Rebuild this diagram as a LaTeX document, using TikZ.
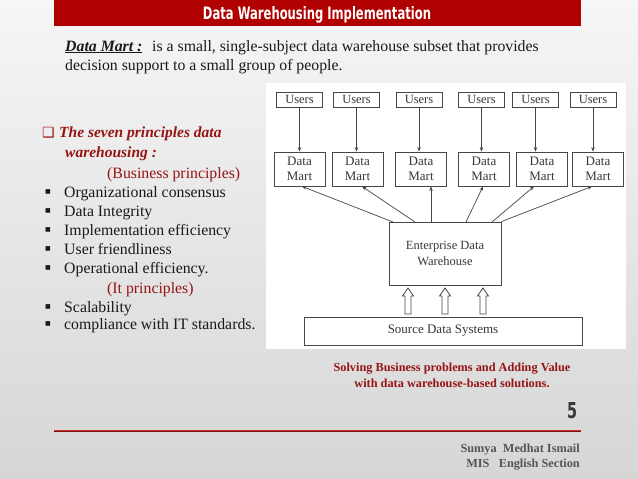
\documentclass[tikz,border=0pt]{standalone}
\usepackage{fontspec}
\setmainfont{Liberation Serif}
\newfontfamily\dejavu{DejaVu Sans}
\usetikzlibrary{calc,arrows.meta}
\definecolor{bgtop}{RGB}{246,246,246}
\definecolor{bgbot}{RGB}{214,214,214}
\definecolor{titlered}{RGB}{176,0,0}
\definecolor{darkred}{RGB}{150,20,20}
\definecolor{lineg}{RGB}{70,70,70}
\definecolor{txtg}{RGB}{55,55,55}
\definecolor{authg}{RGB}{85,85,85}
\definecolor{bodyk}{RGB}{25,25,25}
\definecolor{rulered}{RGB}{205,45,40}
\definecolor{ruledark}{RGB}{120,20,20}
\begin{document}
\begin{tikzpicture}[x=1pt,y=-1pt,
  body/.style={anchor=base west, inner sep=0pt, text=bodyk, font=\fontsize{15.8}{18}\selectfont},
  redhead/.style={body, text=darkred, font=\fontsize{15.5}{18}\selectfont\bfseries\itshape},
  redsub/.style={body, text=darkred},
  bul/.style={anchor=base west, inner sep=0pt, text=bodyk, font=\dejavu\fontsize{6}{6}\selectfont},
  dbox/.style={draw=lineg, line width=0.8pt, fill=white, inner sep=0pt, text=txtg, align=center, font=\fontsize{12.5}{14}\selectfont},
  usersbox/.style={dbox, minimum width=46pt, minimum height=15pt},
  martbox/.style={dbox, minimum width=51pt, minimum height=34pt, font=\fontsize{13}{15}\selectfont},
  arr/.style={draw=lineg, line width=0.7pt, -{Stealth[length=4.5pt,width=3.5pt]}},
  hollow/.style={draw=lineg, line width=0.8pt, fill=white},
  caption/.style={anchor=base, inner sep=0pt, text=darkred, font=\fontsize{12.3}{14}\selectfont\bfseries},
  author/.style={anchor=base east, inner sep=0pt, text=authg, font=\fontsize{12.3}{14}\selectfont\bfseries},
]
\useasboundingbox (0,0) rectangle (638,479);
\shade[top color=bgtop, bottom color=bgbot] (0,0) rectangle (638,479);

% title bar
\fill[titlered] (54,0) rectangle (581,26);
\node[anchor=base, inner sep=0pt, text=white] (title) at (317,19.3)
  {\resizebox{228pt}{13pt}{\dejavu\bfseries Data Warehousing Implementation}};

% definition
\node[body] (dmlabel) at (65,51) {\underline{\textbf{\textit{Data Mart :}}}};
\node[body] (dmdef1) at (152,51) {is a small, single-subject data warehouse subset that provides};
\node[body] (dmdef2) at (65,70) {decision support to a small group of people.};

% left list
\node[anchor=base west, inner sep=0pt, text=darkred, font=\dejavu\fontsize{14}{14}\selectfont] (chk) at (42,137) {❑};
\node[redhead] (h1) at (59,137) {The seven principles data};
\node[redhead] (h2) at (65,157) {warehousing :};
\node[redsub] (bp) at (107,178) {(Business principles)};
\foreach \y/\t [count=\i] in {197/Organizational consensus, 216/Data Integrity, 235/Implementation efficiency, 254/User friendliness, 273/Operational efficiency.}{
  \node[bul] (b\i) at (45,\y-4) {■};
  \node[body] (t\i) at (64,\y) {\t};
}
\node[redsub] (ip) at (107,293) {(It principles)};
\node[bul] (b6) at (45,308) {■};
\node[body] (t6) at (64,312) {Scalability};
\node[bul] (b7) at (45,325) {■};
\node[body] (t7) at (64,329) {compliance with IT standards.};

% diagram panel
\fill[white] (266,83) rectangle (626,349);

\foreach \x [count=\i] in {299.5,356.5,419,481.5,535.5,593}{
  \node[usersbox] (u\i) at (\x,99.5) {Users};
}
\foreach \x [count=\i] in {299.5,357.5,421,484,542,598}{
  \node[martbox] (dm\i) at (\x,169) {Data\\Mart};
}
\foreach \i in {1,...,6}{
  \draw[arr] (u\i.south) -- (u\i.south |- dm\i.north);
}

\node[dbox, minimum width=112pt, minimum height=63pt, font=\fontsize{12.5}{16}\selectfont] (edw) at (445,253.5) {Enterprise Data\\Warehouse};
\node[dbox, minimum width=278pt, minimum height=28pt, font=\fontsize{13}{15}\selectfont] (src) at (443,331) {Source Data Systems};

\coordinate (e1) at (393,222);
\coordinate (e2) at (415,222);
\coordinate (e3) at (431,222);
\coordinate (e4) at (466,222);
\coordinate (e5) at (492,222);
\coordinate (e6) at (edw.north east);
\draw[arr] (e1) -- ($(dm1.south)+(2.5,0)$);
\draw[arr] (e2) -- ($(dm2.south)+(4.5,0)$);
\draw[arr] (e3) -- ($(dm3.south)+(10,0)$);
\draw[arr] (e4) -- ($(dm4.south)+(-1,0)$);
\draw[arr] (e5) -- ($(dm5.south)+(-8,0)$);
\draw[arr] (e6) -- ($(dm6.south)+(-6,0)$);

% hollow block arrows from source to EDW
\foreach \x [count=\i] in {408,445,483}{
  \coordinate (h\i) at (\x,288);
  \draw[hollow] (h\i) -- ++(5.5,8) -- ++(-2.5,0) -- ++(0,18) -- ++(-6,0) -- ++(0,-18) -- ++(-2.5,0) -- cycle;
}

% caption
\node[caption] (cap1) at (452,371) {Solving Business problems and Adding Value};
\node[caption] (cap2) at (452,387) {with data warehouse-based solutions.};

% page number
\node[anchor=base west, inner sep=0pt, text=txtg] (pg) at (567,418)
  {\resizebox{10pt}{16pt}{\dejavu\bfseries 5}};

% rule
\draw[rulered, line width=2.6pt] (54,431) -- (581,431);
\draw[ruledark, line width=0.9pt] (54,431) -- (581,431);

% author
\node[author] (a1) at (580,452) {Sumya\ \ Medhat Ismail};
\node[author] (a2) at (580,467) {MIS\ \ \ English Section};
\end{tikzpicture}
\end{document}
